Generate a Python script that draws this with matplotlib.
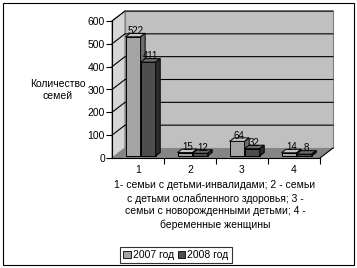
import matplotlib
matplotlib.use("Agg")
import matplotlib.pyplot as plt
from matplotlib.patches import Polygon, Rectangle
from matplotlib.lines import Line2D

plt.rcParams["font.family"] = ["Liberation Sans", "DejaVu Sans"]

categories = ["1", "2", "3", "4"]
series_names = ["2007 год", "2008 год"]
values_2007 = [522, 15, 64, 14]
values_2008 = [411, 12, 32, 8]
y_ticks = [0, 100, 200, 300, 400, 500, 600]
caption = ("1- семьи с детьми-инвалидами; 2 - семьи\n"
           "с детьми ослабленного здоровья; 3 -\n"
           "семьи с новорожденными детьми; 4 -\n"
           "беременные женщины")

face_colors = [("#a4a4a4", "#c4c4c4", "#6e6e6e"),
               ("#4e4e4e", "#6a6a6a", "#2c2c2c")]

W, H = 357, 268
fig = plt.figure(figsize=(W / 100, H / 100), dpi=100)
fig.patch.set_facecolor("white")
ax = fig.add_axes([112 / W, 1 - 158 / H, 208 / W, 137 / H])
ax.set_xlim(0.5, 4.5)
ax.set_ylim(0, 600)
ax.patch.set_visible(False)

# depth of the 3D box in data units
ddx = 13 / 52
ddy = 10 / (137 / 600)
x0, x1 = 0.5, 4.5
ytop = 600

# walls and floor
left_wall = Polygon([(x0, 0), (x0 + ddx, ddy), (x0 + ddx, ytop + ddy), (x0, ytop)],
                    closed=True, fc="#d6d6d6", ec="#808080", lw=0.8,
                    clip_on=False, zorder=0)
back_wall = Rectangle((x0 + ddx, ddy), x1 - x0, ytop, fc="#c0c0c0",
                      ec="#808080", lw=0.8, clip_on=False, zorder=0)
floor = Polygon([(x0, 0), (x1, 0), (x1 + ddx, ddy), (x0 + ddx, ddy)],
                closed=True, fc="#858585", ec="none", clip_on=False, zorder=1)
for p in (left_wall, back_wall, floor):
    ax.add_patch(p)

for yt in y_ticks[1:]:
    ax.add_line(Line2D([x0, x0 + ddx, x1 + ddx], [yt, yt + ddy, yt + ddy],
                       color="black", lw=0.8, clip_on=False, zorder=0.5))
ax.add_line(Line2D([x1, x1 + ddx], [0, ddy], color="black", lw=0.8,
                   clip_on=False, zorder=2))

# bars
bw = 0.29
f0, f1 = 0.2, 0.55
for i, cat in enumerate(categories):
    c = i + 1
    for j, vals in enumerate([values_2007, values_2008]):
        h = vals[i]
        xl = c + f0 * ddx - bw + j * bw
        yb = f0 * ddy
        bdx = (f1 - f0) * ddx
        bdy = (f1 - f0) * ddy
        front_c, top_c, side_c = face_colors[j]
        ax.add_patch(Rectangle((xl, yb), bw, h, fc=front_c, ec="black",
                               lw=0.7, clip_on=False, zorder=3 + i + j * 0.1))
        ax.add_patch(Polygon([(xl, yb + h), (xl + bw, yb + h),
                              (xl + bw + bdx, yb + h + bdy), (xl + bdx, yb + h + bdy)],
                             closed=True, fc=top_c, ec="black", lw=0.7,
                             clip_on=False, zorder=3 + i + j * 0.1))
        ax.add_patch(Polygon([(xl + bw, yb), (xl + bw + bdx, yb + bdy),
                              (xl + bw + bdx, yb + h + bdy), (xl + bw, yb + h)],
                             closed=True, fc=side_c, ec="black", lw=0.7,
                             clip_on=False, zorder=3 + i + j * 0.1))
        ax.text(xl + bw / 2 + bdx / 2, yb + h + bdy * 0.2, str(h),
                ha="center", va="bottom", fontsize=7, zorder=10)

# axes
ax.spines["top"].set_visible(False)
ax.spines["right"].set_visible(False)
ax.spines["left"].set_linewidth(0.8)
ax.spines["bottom"].set_linewidth(0.8)
ax.spines["left"].set_zorder(5)
ax.spines["bottom"].set_zorder(5)
ax.set_yticks(y_ticks)
ax.tick_params(axis="y", direction="out", length=4, width=0.8, labelsize=7.5, pad=1)
ax.set_xticks([1.5, 2.5, 3.5, 4.5])
ax.set_xticklabels([])
ax.set_xticks([1, 2, 3, 4], minor=True)
ax.set_xticklabels(categories, minor=True, fontsize=7.5)
ax.tick_params(axis="x", which="major", direction="out", length=4, width=0.8)
ax.tick_params(axis="x", which="minor", length=0, pad=5)

fig.text(58 / W, 1 - 90 / H, "Количество\nсемей", ha="center", va="center",
         fontsize=7.5, linespacing=1.35)
fig.text(215 / W, 1 - 205 / H, caption, ha="center", va="center",
         fontsize=7.5, linespacing=1.35)

handles = [Rectangle((0, 0), 1, 1, fc=face_colors[k][0], ec="black", lw=0.6)
           for k in range(2)]
leg = fig.legend(handles, series_names, loc="center",
                 bbox_to_anchor=(176 / W, 1 - 255 / H), ncol=2, fontsize=7.5,
                 frameon=True, fancybox=False, handlelength=0.7, handleheight=0.7,
                 handletextpad=0.2, columnspacing=0.4, borderpad=0.3,
                 borderaxespad=0)
leg.get_frame().set_edgecolor("black")
leg.get_frame().set_linewidth(0.8)

fig.patches.append(Rectangle((3 / W, 3 / H), 351 / W, 262 / H, fill=False,
                             ec="black", lw=0.8, transform=fig.transFigure))

fig.savefig("out.png", dpi=100)
